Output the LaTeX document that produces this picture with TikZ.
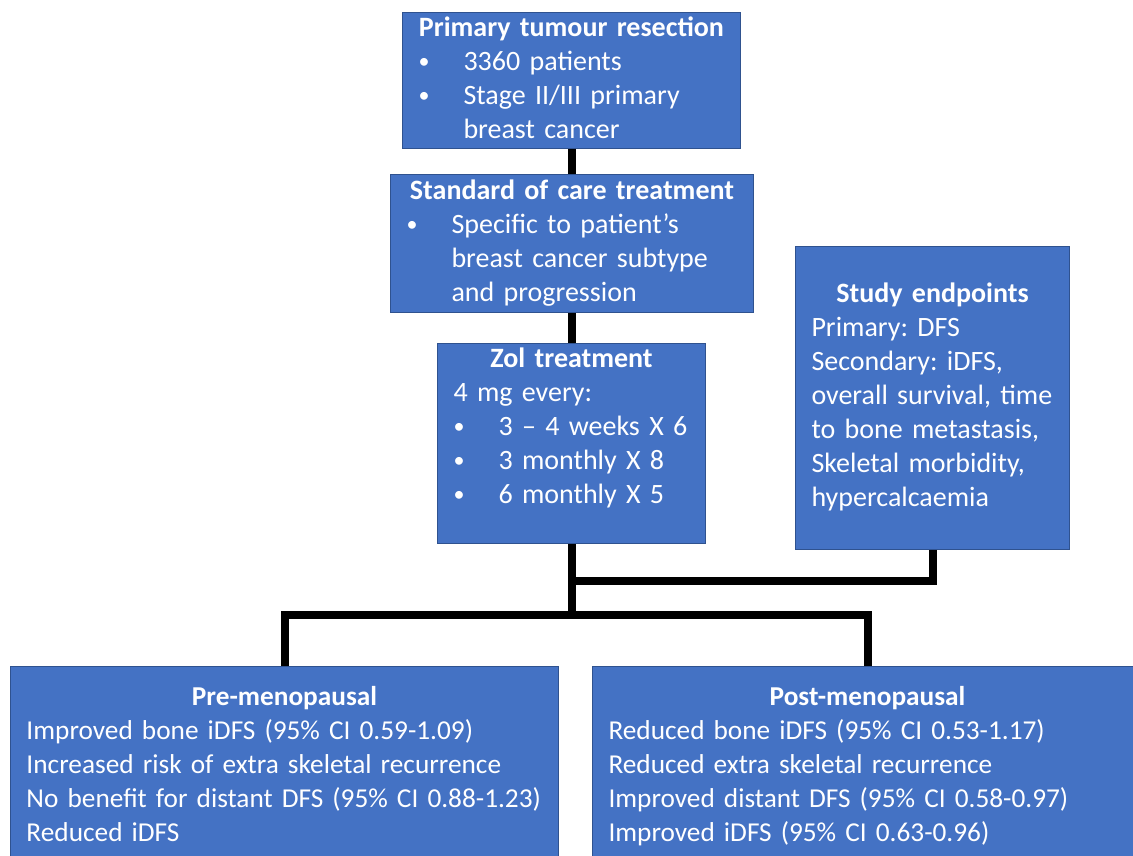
\documentclass[tikz,border=0pt]{standalone}
\usepackage{fontspec}
\setmainfont{Carlito}
\usepackage{tikz}
\frenchspacing

\definecolor{boxblue}{HTML}{4472C4}
\definecolor{boxedge}{HTML}{2F528F}

\newcommand{\boxtitle}[1]{\makebox[\hsize]{\bfseries\strut #1}}
\newcommand{\bul}{\strut\makebox[45pt][l]{\raisebox{1.5pt}{\fontsize{22}{34}\selectfont\textbullet}}}
\newcommand{\cont}{\strut\hspace*{45pt}}

\begin{document}
\begin{tikzpicture}[x=1pt,y=-1pt,
  box/.style={draw=boxedge, fill=boxblue, line width=1pt, text=white,
    anchor=north west, align=left, inner xsep=16pt, inner ysep=0pt,
    font=\fontsize{28}{34}\selectfont},
  result/.style={box, font=\fontsize{27.3}{34}\selectfont},
  link/.style={line width=8pt}]
 \useasboundingbox (0,0) rectangle (1133,856);
 \clip (0,0) rectangle (1133,856);

 \node[box, text width=306pt, minimum height=135pt] (prim) at (402,12)
  {\boxtitle{Primary tumour resection}\\
   \bul 3360 patients\\
   \bul Stage II/III primary\\
   \cont breast cancer};
 \node[box, text width=331pt, minimum height=138pt] (soc) at (390,174)
  {\boxtitle{Standard of care treatment}\\
   \bul Specific to patient’s\\
   \cont breast cancer subtype\\
   \cont and progression};
 \node[box, text width=236pt, minimum height=200pt] (zol) at (437,343)
  {\boxtitle{Zol treatment}\\
   \strut 4 mg every:\\
   \bul 3 – 4 weeks X 6\\
   \bul 3 monthly X 8\\
   \bul 6 monthly X 5\\[6pt]
   \null};
 \node[box, text width=242pt, minimum height=303pt] (endp) at (795,246)
  {\boxtitle{Study endpoints}\\
   Primary: DFS\\
   Secondary: iDFS,\\
   overall survival, time\\
   to bone metastasis,\\
   Skeletal morbidity,\\
   hypercalcaemia\strut};
 \node[result, text width=516pt, minimum height=200pt] (pre) at (10,666)
  {\boxtitle{Pre-menopausal}\\
   Improved bone iDFS (95\% CI 0.59-1.09)\\
   Increased risk of extra skeletal recurrence\\
   No benefit for distant DFS (95\% CI 0.88-1.23)\\
   Reduced iDFS\strut};
 \node[result, text width=518pt, minimum height=200pt] (post) at (592,666)
  {\boxtitle{Post-menopausal}\\
   Reduced bone iDFS (95\% CI 0.53-1.17)\\
   Reduced extra skeletal recurrence\\
   Improved distant DFS (95\% CI 0.58-0.97)\\
   Improved iDFS (95\% CI 0.63-0.96)\strut};

 \coordinate (split) at (zol.south |- 0,615);
 \coordinate (join) at (zol.south |- 0,581);
 \draw[link] (prim.south) -- (prim.south |- soc.north);
 \draw[link] (soc.south) -- (soc.south |- zol.north);
 \draw[link] (zol.south) -- (split);
 \draw[link] (pre.north) |- (split) -| (post.north);
 \draw[link] (endp.south) |- (join);
\end{tikzpicture}
\end{document}
